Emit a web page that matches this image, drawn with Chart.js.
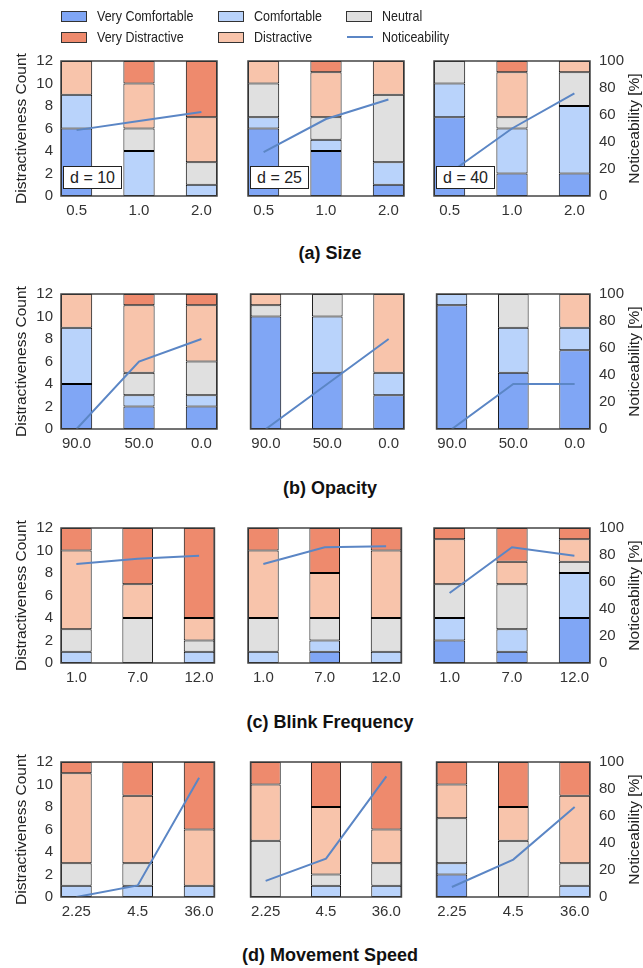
<!DOCTYPE html>
<html><head><meta charset="utf-8">
<script src="https://cdn.jsdelivr.net/npm/chart.js@4.4.1/dist/chart.umd.min.js"></script>
<style>
html,body{margin:0;padding:0;background:#fff}
body{width:643px;height:968px;position:relative;overflow:hidden;font-family:'Liberation Sans',Arial,Helvetica,sans-serif}
canvas{position:absolute}
.lgbox{position:absolute;width:26px;height:11px;border:1px solid #333;box-sizing:border-box}
.lgline{position:absolute;width:26px;height:2px}
.lgtxt{position:absolute;font-size:14.5px;color:#222;line-height:16px;white-space:nowrap;transform:scaleX(0.86);transform-origin:0 50%}
.cap{position:absolute;font-weight:bold;font-size:18px;color:#111;white-space:nowrap;transform:translateX(-50%);line-height:20px}
.tag{position:absolute;height:23px;border:1px solid #222;background:#fff;box-sizing:border-box;font-size:16px;color:#222;line-height:21px;text-align:center;white-space:nowrap}
</style></head><body>
<script>
// ---------- data ----------
const levelNames = ['Very Comfortable','Comfortable','Neutral','Distractive','Very Distractive'];
const levelColors = ['#80a6f5','#b9d3fb','#e0e0e0','#f8c4ab','#ee8a6d'];
const lineColor = '#5b86c5';

const sizeLabels = ['0.5','1.0','2.0'];
const opacityLabels = ['90.0','50.0','0.0'];
const blinkLabels = ['1.0','7.0','12.0'];
const speedLabels = ['2.25','4.5','36.0'];
const distanceTags = ['d = 10','d = 25','d = 40'];

// each array: [panel d=10, panel d=25, panel d=40] x categories
const sizeVeryComfortable = [[6,0,0],[6,4,1],[7,2,2]];
const sizeComfortable     = [[3,4,1],[1,1,2],[3,4,6]];
const sizeNeutral         = [[0,2,2],[3,2,6],[2,1,3]];
const sizeDistractive     = [[3,4,4],[2,4,3],[0,4,1]];
const sizeVeryDistractive = [[0,2,5],[0,1,0],[0,1,0]];
const sizeNoticeability   = [[48.8,55.5,62.3],[32.5,57,71.5],[17,50,76]];

const opacityVeryComfortable = [[4,2,2],[10,5,3],[11,5,7]];
const opacityComfortable     = [[5,1,1],[0,5,2],[1,4,2]];
const opacityNeutral         = [[0,2,3],[1,2,0],[0,3,0]];
const opacityDistractive     = [[3,6,5],[1,0,7],[0,0,3]];
const opacityVeryDistractive = [[0,1,1],[0,0,0],[0,0,0]];
const opacityNoticeability   = [[0,50,66.7],[0,33.3,66.7],[0,33.3,33.3]];

const blinkVeryComfortable = [[0,0,0],[0,1,0],[2,1,4]];
const blinkComfortable     = [[1,0,1],[1,1,1],[2,2,4]];
const blinkNeutral         = [[2,4,1],[3,2,3],[3,4,1]];
const blinkDistractive     = [[7,3,2],[6,4,6],[4,2,2]];
const blinkVeryDistractive = [[2,5,8],[2,4,2],[1,3,1]];
const blinkNoticeability   = [[73.3,77.3,79.5],[73.3,85.7,86.4],[51.9,85.7,79.5]];

const speedVeryComfortable = [[0,0,0],[0,0,0],[2,0,0]];
const speedComfortable     = [[1,1,1],[0,1,1],[1,0,1]];
const speedNeutral         = [[2,2,0],[5,1,2],[4,5,2]];
const speedDistractive     = [[8,6,5],[5,6,3],[3,3,6]];
const speedVeryDistractive = [[1,3,6],[2,4,6],[2,4,3]];
const speedNoticeability   = [[0,8.6,88.4],[11.9,28.4,89.4],[7.4,27.7,66.7]];

const countTicks = [0,2,4,6,8,10,12];
const percentTicks = [0,20,40,60,80,100];

// ---------- layout ----------
const FONT = "'Liberation Sans', Arial, Helvetica, sans-serif";
const rows = [
  {labels:sizeLabels, series:[sizeVeryComfortable,sizeComfortable,sizeNeutral,sizeDistractive,sizeVeryDistractive], notice:sizeNoticeability, top:61, caption:'(a) Size', capTop:243, tags:true},
  {labels:opacityLabels, series:[opacityVeryComfortable,opacityComfortable,opacityNeutral,opacityDistractive,opacityVeryDistractive], notice:opacityNoticeability, top:294, caption:'(b) Opacity', capTop:478},
  {labels:blinkLabels, series:[blinkVeryComfortable,blinkComfortable,blinkNeutral,blinkDistractive,blinkVeryDistractive], notice:blinkNoticeability, top:528, caption:'(c) Blink Frequency', capTop:712},
  {labels:speedLabels, series:[speedVeryComfortable,speedComfortable,speedNeutral,speedDistractive,speedVeryDistractive], notice:speedNoticeability, top:762, caption:'(d) Movement Speed', capTop:945}
];
const panels = [
  {left:0,   width:220, pad:{left:0,right:3}},
  {left:245, width:162, pad:{left:3,right:3}},
  {left:431, width:212, pad:{left:3,right:0}}
];
const PLOT_H = 135, PAD_TOP = 22, XAXIS_H = 35;

const framePlugin = {
  id:'frame',
  afterDatasetsDraw(chart){
    const a = chart.chartArea, ctx = chart.ctx;
    ctx.save();
    ctx.strokeStyle = '#444';
    ctx.lineWidth = 1.5;
    ctx.strokeRect(a.left, a.top, a.right - a.left, a.bottom - a.top);
    ctx.restore();
  }
};
const rightTitlePlugin = {
  id:'rightTitle',
  afterDraw(chart, args, opts){
    if (!opts || !opts.text) return;
    const a = chart.chartArea, ctx = chart.ctx;
    ctx.save();
    ctx.translate(chart.width - 8, (a.top + a.bottom) / 2);
    ctx.rotate(-Math.PI / 2);
    ctx.font = '15.5px ' + FONT;
    ctx.fillStyle = '#222';
    ctx.textAlign = 'center';
    ctx.textBaseline = 'middle';
    ctx.fillText(opts.text, 0, 0);
    ctx.restore();
  }
};

rows.forEach((row, r) => {
  panels.forEach((pn, p) => {
    const cv = document.createElement('canvas');
    const h = PAD_TOP + PLOT_H + XAXIS_H;
    cv.width = pn.width; cv.height = h;
    cv.style.left = pn.left + 'px';
    cv.style.top = (row.top - PAD_TOP) + 'px';
    cv.style.width = pn.width + 'px';
    cv.style.height = h + 'px';
    document.body.appendChild(cv);

    const datasets = levelNames.map((name, k) => ({
      type:'bar', label:name,
      data: row.series[k][p].map((v, i) => ({x:i, y:v})),
      backgroundColor: levelColors[k], borderColor:'#000', borderWidth:1, borderSkipped:false,
      categoryPercentage:1, barPercentage:0.5, yAxisID:'y', order:1
    }));
    datasets.push({
      type:'line', label:'Noticeability',
      data: row.notice[p].map((v, i) => ({x:i, y:v})),
      borderColor: lineColor, borderWidth:2, pointRadius:0, tension:0, fill:false,
      yAxisID:'y2', order:0
    });

    new Chart(cv, {
      type:'bar',
      data:{datasets},
      plugins:[framePlugin, rightTitlePlugin],
      options:{
        responsive:false, animation:false, devicePixelRatio:1,
        layout:{padding:{top:PAD_TOP, bottom:0, left:pn.pad.left, right:pn.pad.right}},
        plugins:{legend:{display:false}, tooltip:{enabled:false},
          rightTitle:{text: p === 2 ? 'Noticeability [%]' : ''}},
        scales:{
          x:{type:'linear', min:-0.25, max:2.25, offset:false, stacked:true,
             grid:{display:false, drawTicks:false}, border:{display:false},
             afterBuildTicks: s => { s.ticks = row.labels.map((l, i) => ({value:i})); },
             afterFit: s => { s.height = XAXIS_H; },
             ticks:{callback: v => row.labels[v], autoSkip:false, maxRotation:0, padding:6,
                    color:'#333', font:{family:FONT, size:15}}},
          y:{display: p === 0, position:'left', min:0, max:12, stacked:true,
             grid:{display:false, drawTicks:false}, border:{display:false},
             afterBuildTicks: s => { s.ticks = countTicks.map(v => ({value:v})); },
             afterFit: s => { if (p === 0) s.width = 61; },
             ticks:{padding:8, color:'#333', font:{family:FONT, size:15}},
             title:{display:true, text:'Distractiveness Count', color:'#222',
                    font:{family:FONT, size:15.5}, padding:{top:12, bottom:0}}},
          y2:{display: p === 2, position:'right', min:0, max:100, stacked:false,
             grid:{display:false, drawTicks:false}, border:{display:false},
             afterBuildTicks: s => { s.ticks = percentTicks.map(v => ({value:v})); },
             afterFit: s => { if (p === 2) s.width = 53; },
             ticks:{padding:9, color:'#333', font:{family:FONT, size:15}}}
        }
      }
    });

    if (row.tags) {
      const t = document.createElement('div');
      t.className = 'tag';
      const tagLeft = [63, 250, 436][p];
      t.style.left = tagLeft + 'px';
      t.style.top = (row.top + 105) + 'px';
      t.style.width = '59px';
      t.textContent = distanceTags[p];
      document.body.appendChild(t);
    }
  });
  const c = document.createElement('div');
  c.className = 'cap';
  c.style.left = '330px';
  c.style.top = row.capTop + 'px';
  c.textContent = row.caption;
  document.body.appendChild(c);
});

// ---------- legend ----------
const legendPos = [
  {x:61, y:11}, {x:218, y:11}, {x:346, y:11},
  {x:61, y:32}, {x:218, y:32}
];
const legendOrder = [0,1,2,4,3];
legendOrder.forEach((k, j) => {
  const pos = legendPos[j];
  const b = document.createElement('div');
  b.className = 'lgbox';
  b.style.left = pos.x + 'px'; b.style.top = pos.y + 'px';
  b.style.background = levelColors[k];
  document.body.appendChild(b);
  const t = document.createElement('div');
  t.className = 'lgtxt';
  t.style.left = (pos.x + 36) + 'px'; t.style.top = (pos.y - 3) + 'px';
  t.textContent = levelNames[k];
  document.body.appendChild(t);
});
{
  const l = document.createElement('div');
  l.className = 'lgline';
  l.style.left = '347px'; l.style.top = '36px'; l.style.background = lineColor;
  document.body.appendChild(l);
  const t = document.createElement('div');
  t.className = 'lgtxt';
  t.style.left = '382px'; t.style.top = '29px';
  t.textContent = 'Noticeability';
  document.body.appendChild(t);
}
</script>
</body></html>
